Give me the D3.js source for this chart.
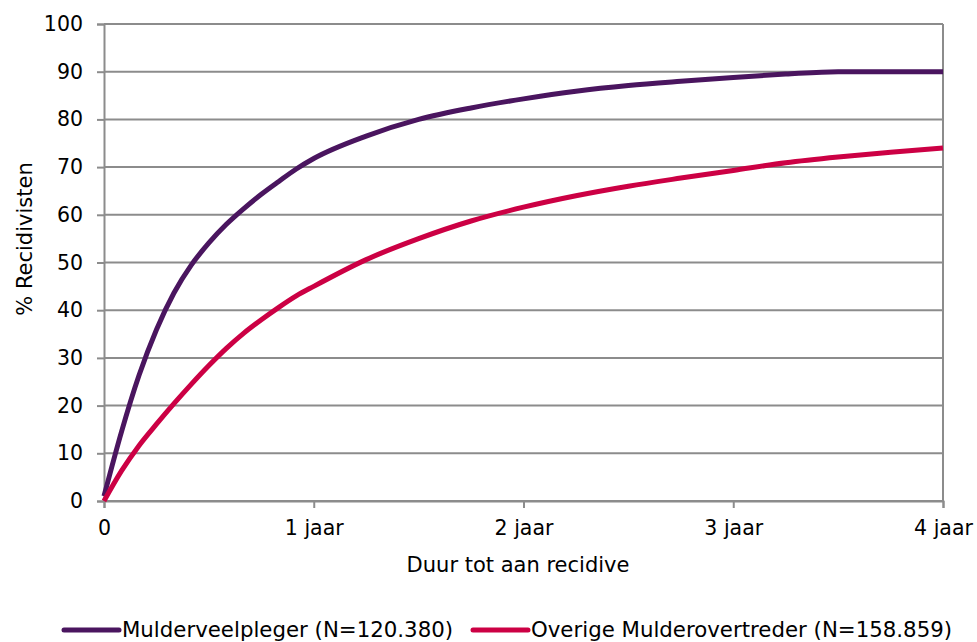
<!DOCTYPE html>
<html>
<head>
<meta charset="utf-8">
<script src="https://cdn.jsdelivr.net/npm/d3@7"></script>
<style>
  body { margin: 0; background: #fff; }
  svg { display: block; }
  text { font-family: "DejaVu Sans", Verdana, sans-serif; fill: #000; }
</style>
</head>
<body>
<svg id="chart" width="977" height="642"></svg>
<script>
// months since start of follow-up
const months = [0, 1, 2, 3, 4, 5, 6, 7, 8, 9, 10, 11, 12, 15, 18, 21, 24, 27, 30, 33, 36, 39, 42, 45, 48];
const veelpleger = [1, 14.5, 26.3, 35.9, 43.6, 49.5, 54.1, 58, 61.3, 64.3, 67, 69.6, 71.8, 76.5, 80, 82.4, 84.3, 85.9, 87.1, 88, 88.8, 89.5, 90, 90, 90];
const overige = [0, 6.3, 11.6, 16.1, 20.4, 24.5, 28.4, 32, 35.2, 38, 40.6, 43, 45, 50.6, 55, 58.7, 61.6, 64, 66, 67.7, 69.3, 70.9, 72.1, 73.1, 74];

const xTicks = [0, 12, 24, 36, 48];
const xTickLabels = ["0", "1 jaar", "2 jaar", "3 jaar", "4 jaar"];
const yTicks = [0, 10, 20, 30, 40, 50, 60, 70, 80, 90, 100];

const series = [
    { name: "Mulderveelpleger (N=120.380)", values: veelpleger, color: "#4a155f" },
    { name: "Overige Mulderovertreder (N=158.859)", values: overige, color: "#cc0044" }
];

const margin = { top: 24, left: 104, right: 34, bottom: 141 };
const width = 977 - margin.left - margin.right;
const height = 642 - margin.top - margin.bottom;

const svg = d3.select("#chart");
const g = svg.append("g").attr("transform", "translate(" + margin.left + "," + margin.top + ")");

const x = d3.scaleLinear().domain([0, 48]).range([0, width]);
const y = d3.scaleLinear().domain([0, 100]).range([height, 0]);

const gridColor = "#8c8c8c";

// horizontal grid lines
g.append("g")
    .selectAll("line").data(yTicks)
    .enter().append("line")
    .attr("x1", 0).attr("x2", width)
    .attr("y1", d => y(d)).attr("y2", d => y(d))
    .attr("stroke", gridColor).attr("stroke-width", 2);

// y axis
const yAxis = g.append("g")
    .call(d3.axisLeft(y).tickValues(yTicks).tickSize(7).tickPadding(14));
yAxis.select(".domain").attr("stroke", gridColor).attr("stroke-width", 2);
yAxis.selectAll(".tick line").attr("stroke", gridColor).attr("stroke-width", 2);
yAxis.selectAll(".tick text").attr("font-size", 20.5).attr("font-family", "DejaVu Sans");

// x axis
const xAxis = g.append("g")
    .attr("transform", "translate(0," + height + ")")
    .call(d3.axisBottom(x).tickValues(xTicks).tickFormat((d, i) => xTickLabels[i]).tickSize(7).tickPadding(12));
xAxis.select(".domain").attr("stroke", gridColor).attr("stroke-width", 2);
xAxis.selectAll(".tick line").attr("stroke", gridColor).attr("stroke-width", 2);
xAxis.selectAll(".tick text").attr("font-size", 20.5).attr("font-family", "DejaVu Sans");

// right border
g.append("line")
    .attr("x1", width).attr("x2", width)
    .attr("y1", 0).attr("y2", height)
    .attr("stroke", gridColor).attr("stroke-width", 2);

// curves
const line = d3.line()
    .x((d, i) => x(months[i]))
    .y(d => y(d))
    .curve(d3.curveMonotoneX);

g.selectAll(".series").data(series)
    .enter().append("path")
    .attr("class", "series")
    .attr("fill", "none")
    .attr("stroke", d => d.color)
    .attr("stroke-width", 5)
    .attr("stroke-linejoin", "round")
    .attr("d", d => line(d.values));

// axis titles
svg.append("text")
    .attr("x", 518)
    .attr("y", 572)
    .attr("text-anchor", "middle")
    .attr("font-size", 21)
    .text("Duur tot aan recidive");

svg.append("text")
    .attr("transform", "translate(32,239) rotate(-90)")
    .attr("text-anchor", "middle")
    .attr("font-size", 21)
    .text("% Recidivisten");

// legend
const legend = svg.append("g").attr("transform", "translate(62,630)");
const legendX = [0, 409];
const items = legend.selectAll("g").data(series)
    .enter().append("g")
    .attr("transform", (d, i) => "translate(" + legendX[i] + ",0)");
items.append("line")
    .attr("x1", 2).attr("x2", 57)
    .attr("y1", 0).attr("y2", 0)
    .attr("stroke", d => d.color)
    .attr("stroke-width", 5)
    .attr("stroke-linecap", "round");
items.append("text")
    .attr("x", 60)
    .attr("y", 7)
    .attr("font-size", 21.3)
    .text(d => d.name);
</script>
</body>
</html>
